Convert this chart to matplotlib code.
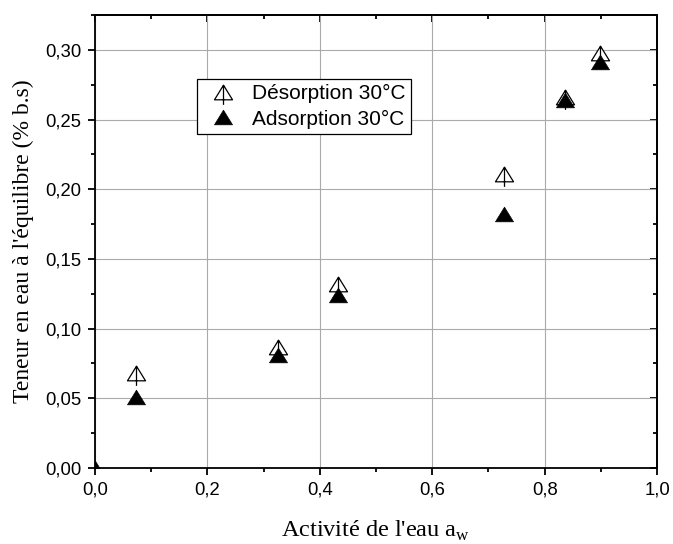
import matplotlib
matplotlib.use("Agg")
import matplotlib.pyplot as plt
from matplotlib.path import Path
from matplotlib.ticker import MultipleLocator, FuncFormatter

# Isothermes a 30 °C
aw_des = [0.073, 0.325, 0.432, 0.728, 0.836, 0.898]
x_des = [0.068, 0.087, 0.132, 0.211, 0.266, 0.298]
aw_ads = [0.0, 0.073, 0.325, 0.432, 0.728, 0.836, 0.898]
x_ads = [0.0, 0.051, 0.081, 0.124, 0.182, 0.264, 0.291]

# triangle ouvert traverse par une tige verticale
w, h, s = 1.0, 0.81, 0.28
des_marker = Path(
    [(-w / 2, -h / 2), (w / 2, -h / 2), (0, h / 2), (-w / 2, -h / 2),
     (0, h / 2), (0, -h / 2 - s)],
    [Path.MOVETO, Path.LINETO, Path.LINETO, Path.CLOSEPOLY,
     Path.MOVETO, Path.LINETO])
ads_marker = Path(
    [(-w / 2, -h / 2), (w / 2, -h / 2), (0, h / 2), (-w / 2, -h / 2)],
    [Path.MOVETO, Path.LINETO, Path.LINETO, Path.CLOSEPOLY])
ms = 13
ms_des = ms * (h / 2 + s) / (w / 2)

fig = plt.figure(figsize=(6.73, 5.44), dpi=100)
ax = fig.add_axes([0.1412, 0.1397, 0.8351, 0.8327])

ax.grid(True, color="#aaaaaa", linewidth=0.8)
ax.set_axisbelow(True)

ax.plot(aw_des, x_des, linestyle="none", marker=des_marker, markersize=ms_des,
        markerfacecolor="white", markeredgecolor="black", markeredgewidth=0.9,
        label="Désorption 30°C")
ax.plot(aw_ads, x_ads, linestyle="none", marker=ads_marker, markersize=ms,
        markerfacecolor="black", markeredgecolor="black", markeredgewidth=0.5,
        label="Adsorption 30°C")

ax.set_xlim(0, 1.0)
ax.set_ylim(0, 0.325)
ax.xaxis.set_major_locator(MultipleLocator(0.2))
ax.xaxis.set_minor_locator(MultipleLocator(0.1))
ax.yaxis.set_major_locator(MultipleLocator(0.05))
ax.yaxis.set_minor_locator(MultipleLocator(0.025))
ax.xaxis.set_major_formatter(FuncFormatter(lambda v, p: f"{v:.1f}".replace(".", ",")))
ax.yaxis.set_major_formatter(FuncFormatter(lambda v, p: f"{v:.2f}".replace(".", ",")))

for sp in ax.spines.values():
    sp.set_linewidth(1.3)

tickfont = "Liberation Sans"
ax.tick_params(which="major", direction="out", length=5, width=1.3,
               labelsize=13.3, pad=5)
ax.tick_params(which="minor", direction="out", length=2.7, width=1.3)
for lab in ax.get_xticklabels() + ax.get_yticklabels():
    lab.set_fontfamily(tickfont)

# ticks vers l'interieur en haut et a droite
top = ax.secondary_xaxis("top")
top.xaxis.set_major_locator(MultipleLocator(0.2))
top.xaxis.set_minor_locator(MultipleLocator(0.1))
top.tick_params(which="major", direction="in", length=5, width=1.3, labeltop=False)
top.tick_params(which="minor", direction="in", length=2.7, width=1.3)
right = ax.secondary_yaxis("right")
right.yaxis.set_major_locator(MultipleLocator(0.05))
right.yaxis.set_minor_locator(MultipleLocator(0.025))
right.tick_params(which="major", direction="in", length=5, width=1.3, labelright=False)
right.tick_params(which="minor", direction="in", length=2.7, width=1.3)
top.spines["top"].set_linewidth(1.3)
right.spines["right"].set_linewidth(1.3)

labfont = "Liberation Serif"
ax.set_xlabel(r"Activité de l'eau a$_\mathregular{w}$", fontfamily=labfont,
              fontsize=17.5, labelpad=14)
ax.set_ylabel("Teneur en eau à l'équilibre (% b.s)", fontfamily=labfont,
              fontsize=17, labelpad=8)

leg = ax.legend(loc="upper left", bbox_to_anchor=(0.1815, 0.8587),
                borderaxespad=0, prop={"family": tickfont, "size": 15},
                frameon=True, fancybox=False, edgecolor="black", framealpha=1,
                borderpad=0.25, handlelength=2.0, handletextpad=0.4,
                labelspacing=0.3)
leg.get_frame().set_linewidth(0.9)

fig.savefig("out.png", dpi=100)
